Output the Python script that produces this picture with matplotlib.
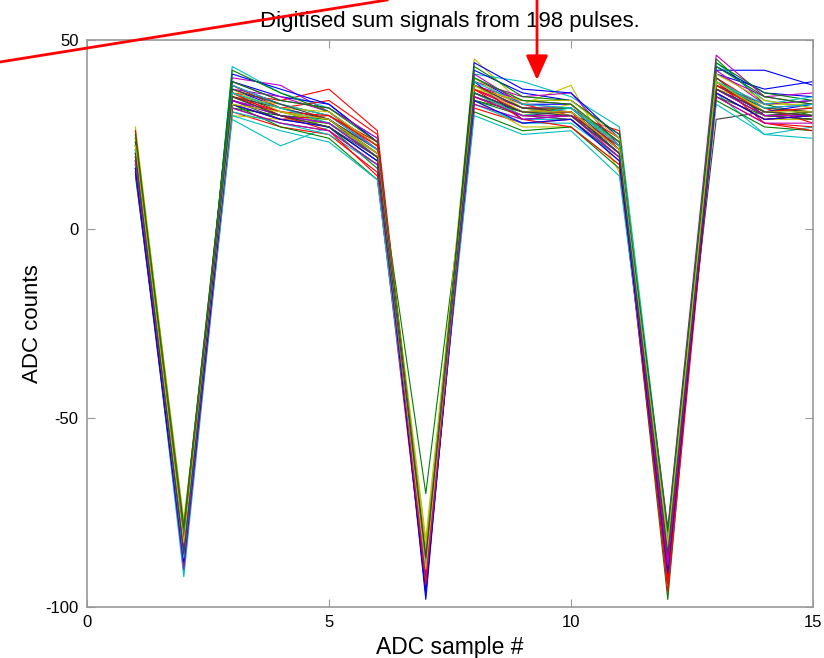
import matplotlib
matplotlib.use("Agg")
import matplotlib.pyplot as plt
from matplotlib.lines import Line2D
from matplotlib.patches import FancyArrowPatch

plt.rcParams['font.family'] = ['Liberation Sans', 'DejaVu Sans']
plt.rcParams['axes.unicode_minus'] = False

# ADC sample numbers
samples = list(range(1, 16))

# digitised sum signals, one row per pulse
pulses = [
    [22, -86, 38, 33, 30, 21, -91, 40, 33, 33, 22, -87, 42, 42, 38],
    [18, -82, 33, 29, 28, 19, -70, 34, 30, 30, 20, -98, 45, 33, 30],
    [24, -80, 36, 34, 37, 26, -88, 37, 32, 32, 24, -90, 39, 30, 29],
    [16, -88, 29, 22, 27, 18, -92, 33, 29, 29, 19, -83, 36, 25, 27],
    [20, -84, 40, 38, 31, 22, -90, 38, 34, 33, 21, -86, 38, 32, 33],
    [26, -78, 34, 30, 29, 20, -86, 45, 33, 38, 15, -84, 40, 31, 30],
    [19, -85, 32, 28, 26, 17, -89, 35, 31, 31, 21, -82, 29, 31, 30],
    [21, -90, 37, 32, 29, 20, -95, 39, 29, 30, 22, -88, 38, 33, 34],
    [17, -87, 35, 30, 27, 16, -93, 36, 31, 32, 23, -85, 37, 30, 31],
    [23, -83, 31, 27, 25, 15, -90, 32, 28, 29, 18, -92, 35, 28, 27],
    [20, -91, 43, 36, 32, 24, -97, 41, 39, 35, 27, -80, 44, 34, 32],
    [15, -81, 34, 31, 29, 21, -85, 37, 32, 31, 20, -84, 41, 35, 33],
    [25, -77, 30, 29, 28, 19, -84, 34, 27, 27, 17, -81, 36, 29, 29],
    [18, -86, 36, 31, 28, 20, -91, 36, 30, 31, 21, -86, 37, 30, 31],
    [22, -89, 39, 35, 33, 23, -98, 42, 36, 34, 25, -87, 43, 36, 35],
    [14, -84, 33, 27, 24, 13, -88, 31, 26, 27, 16, -90, 34, 27, 26],
    [24, -79, 38, 32, 34, 25, -93, 38, 33, 30, 26, -93, 40, 32, 28],
    [19, -92, 31, 28, 25, 17, -87, 33, 28, 28, 19, -84, 38, 31, 32],
    [21, -83, 37, 35, 31, 21, -89, 39, 35, 36, 22, -79, 46, 35, 36],
    [27, -80, 35, 33, 30, 22, -82, 40, 32, 30, 20, -85, 37, 33, 33],
    [16, -87, 34, 29, 27, 18, -94, 35, 30, 29, 19, -88, 36, 29, 30],
    [20, -85, 41, 37, 33, 23, -90, 44, 37, 36, 24, -83, 41, 37, 39],
    [23, -82, 32, 30, 29, 19, -86, 34, 31, 31, 21, -89, 35, 30, 29],
    [17, -88, 36, 30, 26, 14, -95, 37, 29, 27, 17, -94, 39, 28, 26],
    [22, -86, 30, 26, 23, 13, -91, 30, 25, 26, 14, -86, 33, 25, 24],
    [19, -80, 39, 34, 32, 24, -87, 41, 33, 32, 23, -82, 42, 33, 34],
    [24, -84, 37, 31, 28, 20, -92, 36, 30, 33, 22, -87, 38, 32, 31],
    [15, -89, 35, 32, 29, 21, -88, 38, 32, 32, 21, -85, 40, 30, 29],
    [18, -83, 34, 30, 28, 19, -96, 36, 31, 31, 20, -90, 37, 31, 33],
    [21, -87, 42, 36, 31, 22, -90, 43, 35, 34, 25, -84, 44, 36, 34],
    [26, -85, 33, 29, 30, 23, -86, 35, 30, 30, 22, -96, 36, 29, 30],
    [17, -81, 38, 33, 30, 21, -93, 39, 33, 32, 23, -81, 39, 33, 35],
    [22, -90, 32, 28, 26, 17, -89, 33, 29, 30, 19, -88, 35, 28, 28],
    [20, -86, 36, 32, 31, 22, -85, 37, 34, 34, 24, -83, 41, 34, 32],
    [23, -82, 37, 33, 29, 20, -92, 38, 32, 31, 20, -86, 38, 32, 31],
    [16, -88, 33, 29, 27, 18, -89, 34, 28, 29, 18, -91, 36, 29, 30],
    [25, -79, 39, 34, 32, 23, -87, 40, 34, 33, 23, -80, 43, 35, 33],
    [19, -84, 35, 31, 30, 22, -94, 37, 31, 31, 21, -87, 38, 31, 32],
    [21, -87, 36, 32, 28, 19, -88, 36, 30, 32, 22, -85, 39, 32, 33],
    [18, -85, 34, 30, 28, 19, -91, 35, 30, 30, 20, -89, 37, 30, 30],
    [22, -83, 33, 31, 29, 20, -90, 38, 31, 31, 21, -84, 39, 31, 31],
    [20, -86, 35, 30, 27, 19, -87, 36, 31, 30, 20, -86, 37, 31, 30],
]
n_pulses = 198

# old MATLAB colour order
line_colors = [(0, 0, 1), (0, 0.5, 0), (1, 0, 0), (0, 0.75, 0.75),
               (0.75, 0, 0.75), (0.75, 0.75, 0), (0.25, 0.25, 0.25)]

fig = plt.figure(figsize=(8.24, 6.58), dpi=100)
ax = fig.add_axes([87 / 824, 1 - 607 / 658, (813 - 87) / 824, (607 - 40) / 658])

for i, p in enumerate(pulses):
    ax.plot(samples, p, color=line_colors[i % len(line_colors)], lw=0.8)

ax.set_xlim(0, 15)
ax.set_ylim(-100, 50)
ax.set_xticks([0, 5, 10, 15])
ax.set_yticks([-100, -50, 0, 50])
for s in ax.spines.values():
    s.set_color('#999999')
    s.set_linewidth(1.2)
ax.tick_params(direction='in', length=6, color='#999999', labelsize=12,
               top=True, right=True, pad=6)
ax.set_xlabel("ADC sample #", fontsize=16.5, labelpad=4)
ax.set_ylabel("ADC counts", fontsize=16, labelpad=2)
ax.set_title(f"Digitised sum signals from {n_pulses} pulses.", fontsize=16, pad=9)

# red annotation line and arrow on top of the figure
fig.add_artist(Line2D([0, 387 / 824], [1 - 62 / 658, 1.0], color='red', lw=2,
                      transform=fig.transFigure, clip_on=False))
fig.add_artist(FancyArrowPatch((537 / 824, 1.0), (537 / 824, 1 - 80 / 658),
                               transform=fig.transFigure, color='red', lw=2,
                               arrowstyle='-|>,head_length=1.0,head_width=0.45',
                               mutation_scale=15, shrinkA=0, shrinkB=0))

fig.savefig("out.png", dpi=100)
